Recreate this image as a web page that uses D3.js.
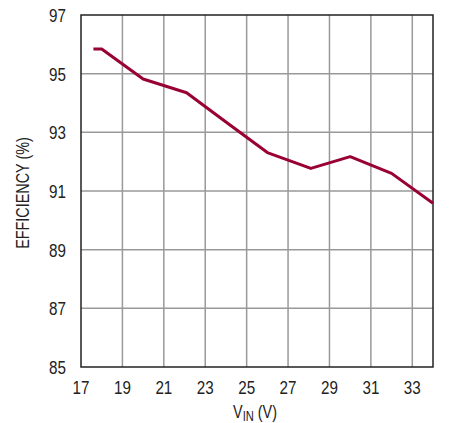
<!DOCTYPE html>
<meta charset="utf-8">
<style>
    body { margin: 0; background: #fff; }
    text { font-family: "Liberation Sans", Arial, sans-serif; fill: #222; }
    .grid line { stroke: #999; stroke-width: 1.5; }
    .frame { fill: none; stroke: #222; stroke-width: 1.5; }
    .curve { fill: none; stroke: #990033; stroke-width: 3; stroke-linejoin: round; }
</style>
<svg width="460" height="423"></svg>
<script src="https://d3js.org/d3.v7.min.js"></script>
<script>

    // input voltage (V) and efficiency (%)
    var vin = [17.6, 18, 20, 22.1, 24, 26, 28.1, 30, 32, 34];
    var efficiency = [95.84, 95.84, 94.82, 94.35, 93.35, 92.31, 91.77, 92.17, 91.6, 90.58];

    var xTicks = [17, 19, 21, 23, 25, 27, 29, 31, 33];
    var yTicks = [85, 87, 89, 91, 93, 95, 97];

    var svg = d3.select("svg"),
        x0 = 81, x1 = 433, y0 = 15, y1 = 367,
        narrow = 0.8; // fake a condensed face

    var x = d3.scaleLinear().domain([17, 34]).range([x0, x1]);
    var y = d3.scaleLinear().domain([85, 97]).range([y1, y0]);

    var grid = svg.append("g").attr("class", "grid");

    grid.selectAll(".vx")
        .data(xTicks.slice(1))
        .enter().append("line")
        .attr("x1", function(d) { return x(d); })
        .attr("x2", function(d) { return x(d); })
        .attr("y1", y0)
        .attr("y2", y1);

    grid.selectAll(".hy")
        .data(yTicks.slice(1, -1))
        .enter().append("line")
        .attr("x1", x0)
        .attr("x2", x1)
        .attr("y1", function(d) { return y(d); })
        .attr("y2", function(d) { return y(d); });

    svg.append("rect")
        .attr("class", "frame")
        .attr("x", x0)
        .attr("y", y0)
        .attr("width", x1 - x0)
        .attr("height", y1 - y0);

    var line = d3.line()
        .x(function(d, i) { return x(vin[i]); })
        .y(function(d) { return y(d); });

    svg.append("path")
        .datum(efficiency)
        .attr("class", "curve")
        .attr("d", line);

    svg.selectAll(".xl")
        .data(xTicks)
        .enter().append("text")
        .attr("transform", function(d) { return "translate(" + x(d) + "," + (y1 + 27) + ") scale(" + narrow + ",1)"; })
        .attr("text-anchor", "middle")
        .style("font-size", "19px")
        .text(function(d) { return d; });

    svg.selectAll(".yl")
        .data(yTicks)
        .enter().append("text")
        .attr("transform", function(d) { return "translate(" + (x0 - 15) + "," + (y(d) + 7) + ") scale(" + narrow + ",1)"; })
        .attr("text-anchor", "end")
        .style("font-size", "19px")
        .text(function(d) { return d; });

    var xt = svg.append("text")
        .attr("transform", "translate(255,418) scale(" + narrow + ",1)")
        .attr("text-anchor", "middle")
        .style("font-size", "18px");
    xt.append("tspan").text("V");
    xt.append("tspan").attr("dy", 3).style("font-size", "14px").text("IN");
    xt.append("tspan").attr("dy", -3).text(" (V)");

    svg.append("text")
        .attr("transform", "translate(29,193) rotate(-90) scale(" + narrow + ",1)")
        .attr("text-anchor", "middle")
        .style("font-size", "18px")
        .text("EFFICIENCY (%)");

</script>
